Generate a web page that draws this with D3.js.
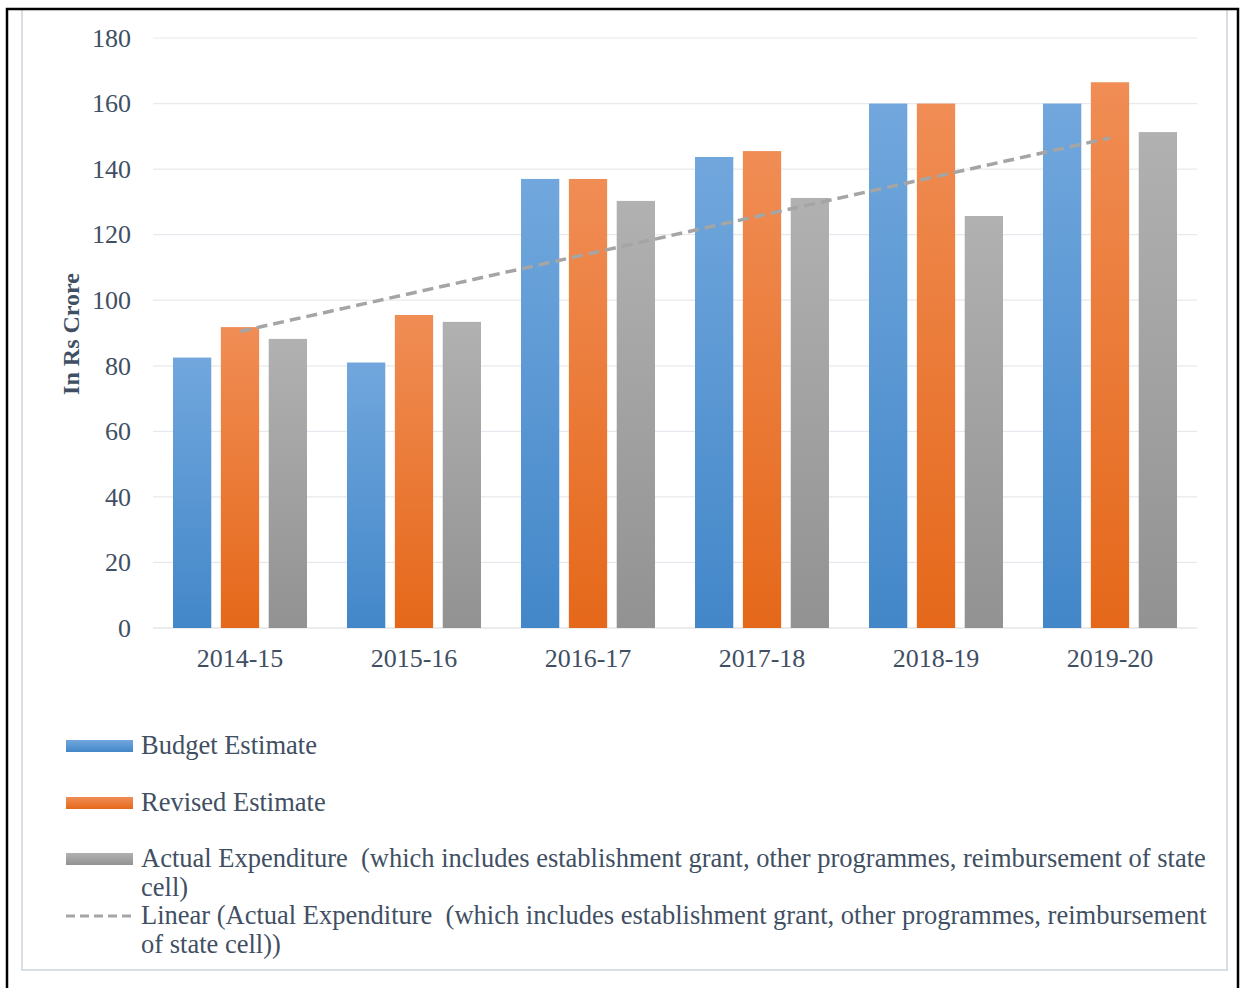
<!DOCTYPE html>
<html>
<head>
<meta charset="utf-8">
<script src="https://cdn.jsdelivr.net/npm/d3@7"></script>
<style>
  body { margin: 0; background: #fff; }
  svg { display: block; font-family: "Liberation Serif", "Times New Roman", serif; }
</style>
</head>
<body>
<div id="chart"></div>
<script>
// data (Rs crore)
var years = ['2014-15', '2015-16', '2016-17', '2017-18', '2018-19', '2019-20'];
var budgetEstimate = [82.5, 81, 137, 143.7, 160, 160];
var revisedEstimate = [91.8, 95.5, 137, 145.5, 160, 166.5];
var actualExpenditure = [88.2, 93.4, 130.3, 131.2, 125.7, 151.3];
var yTicks = [0, 20, 40, 60, 80, 100, 120, 140, 160, 180];
var seriesNames = ['Budget Estimate', 'Revised Estimate', 'Actual Expenditure'];
// legend text is wrapped like in the picture
var legendLines = [
    ['Budget Estimate'],
    ['Revised Estimate'],
    ['Actual Expenditure  (which includes establishment grant, other programmes, reimbursement of state', 'cell)'],
    ['Linear (Actual Expenditure  (which includes establishment grant, other programmes, reimbursement', 'of state cell))']
];

var width = 1240;
var height = 988;
var plot = { left: 153, right: 1197, top: 38, bottom: 628 };
var textColor = '#414f63';

var svg = d3.select('#chart')
    .append('svg')
    .attr('width', width)
    .attr('height', height);

// gradients for the bars (lighter on top)
var colors = [
    { top: '#71a7dd', bottom: '#4387c9' },
    { top: '#f08d55', bottom: '#e5681a' },
    { top: '#b1b1b1', bottom: '#929292' }
];
var defs = svg.append('defs');
colors.forEach(function (c, i) {
    var g = defs.append('linearGradient')
        .attr('id', 'grad' + i)
        .attr('x1', 0).attr('y1', 0).attr('x2', 0).attr('y2', 1);
    g.append('stop').attr('offset', '0%').attr('stop-color', c.top);
    g.append('stop').attr('offset', '100%').attr('stop-color', c.bottom);
});

// ramar
svg.append('rect')
    .attr('x', 22).attr('y', 9)
    .attr('width', 1205).attr('height', 961)
    .attr('fill', 'none')
    .attr('stroke', '#d9dee6')
    .attr('stroke-width', 2);
svg.append('path')
    .attr('d', 'M7,' + (height + 5) + ' V9 H1238 V' + (height + 5))
    .attr('fill', 'none')
    .attr('stroke', '#000')
    .attr('stroke-width', 2.5);

// skalor
var x0 = d3.scaleBand()
    .domain(years)
    .range([plot.left, plot.right]);
var x1 = d3.scaleBand()
    .domain(seriesNames)
    .range([20, x0.bandwidth() - 20])
    .paddingInner(0.2);
var y = d3.scaleLinear()
    .domain([0, 180])
    .range([plot.bottom, plot.top]);

// gridlines
svg.append('g')
    .selectAll('line')
    .data(yTicks).enter()
    .append('line')
    .attr('x1', plot.left)
    .attr('x2', plot.right)
    .attr('y1', function (d) { return y(d); })
    .attr('y2', function (d) { return y(d); })
    .attr('stroke', function (d) { return d === 0 ? '#d9d9d9' : '#e6e9ee'; })
    .attr('stroke-width', 1.2);

// y-axis labels
var yAxis = d3.axisLeft(y).tickValues(yTicks).tickSize(0).tickPadding(22);
var yg = svg.append('g')
    .attr('transform', 'translate(' + plot.left + ',0)')
    .call(yAxis);
yg.select('.domain').remove();
yg.selectAll('text')
    .attr('fill', textColor)
    .style('font-size', '26px')
    .style('font-family', '"Liberation Serif", serif');

// x-axis labels
var xAxis = d3.axisBottom(x0).tickSize(0).tickPadding(21);
var xg = svg.append('g')
    .attr('transform', 'translate(0,' + plot.bottom + ')')
    .call(xAxis);
xg.select('.domain').remove();
xg.selectAll('text')
    .attr('fill', textColor)
    .style('font-size', '26px')
    .style('font-family', '"Liberation Serif", serif');

// y title
svg.append('text')
    .attr('transform', 'translate(79,' + 334 + ') rotate(-90)')
    .attr('text-anchor', 'middle')
    .attr('fill', textColor)
    .style('font-size', '24px')
    .style('font-weight', 'bold')
    .text('In Rs Crore');

// bars
var allSeries = [budgetEstimate, revisedEstimate, actualExpenditure];
allSeries.forEach(function (values, s) {
    svg.append('g')
        .selectAll('rect')
        .data(values).enter()
        .append('rect')
        .attr('x', function (d, i) { return x0(years[i]) + x1(seriesNames[s]); })
        .attr('y', function (d) { return y(d); })
        .attr('width', x1.bandwidth())
        .attr('height', function (d) { return y(0) - y(d); })
        .attr('fill', 'url(#grad' + s + ')');
});

// linear trend of actual expenditure (least squares)
var n = actualExpenditure.length;
var mx = (n + 1) / 2;
var my = d3.mean(actualExpenditure);
var sxy = d3.sum(actualExpenditure, function (d, i) { return (i + 1 - mx) * (d - my); });
var sxx = d3.sum(actualExpenditure, function (d, i) { return (i + 1 - mx) * (i + 1 - mx); });
var slope = sxy / sxx;
var trend = years.map(function (yr, i) { return { year: yr, v: my + slope * (i + 1 - mx) }; });
svg.append('path')
    .datum(trend)
    .attr('d', d3.line()
        .x(function (d) { return x0(d.year) + x0.bandwidth() / 2; })
        .y(function (d) { return y(d.v); }))
    .attr('fill', 'none')
    .attr('stroke', '#a5a5a5')
    .attr('stroke-width', 3.5)
    .attr('stroke-dasharray', '11,6');

// legend
var legendTop = [746, 803, 859, 916];
var legend = svg.append('g');
legendLines.forEach(function (lines, i) {
    var yy = legendTop[i];
    if (i < 3) {
        legend.append('rect')
            .attr('x', 66).attr('y', yy - 6)
            .attr('width', 67).attr('height', 12)
            .attr('fill', 'url(#grad' + i + ')');
    } else {
        legend.append('line')
            .attr('x1', 66).attr('x2', 134)
            .attr('y1', yy).attr('y2', yy)
            .attr('stroke', '#a5a5a5')
            .attr('stroke-width', 3)
            .attr('stroke-dasharray', '9,5');
    }
    var t = legend.append('text')
        .attr('x', 141)
        .attr('y', yy + 8)
        .attr('fill', textColor)
        .style('font-size', '26.5px')
        .style('white-space', 'pre');
    lines.forEach(function (l, k) {
        t.append('tspan')
            .attr('x', 141)
            .attr('dy', k === 0 ? 0 : 29)
            .text(l);
    });
});
</script>
</body>
</html>
